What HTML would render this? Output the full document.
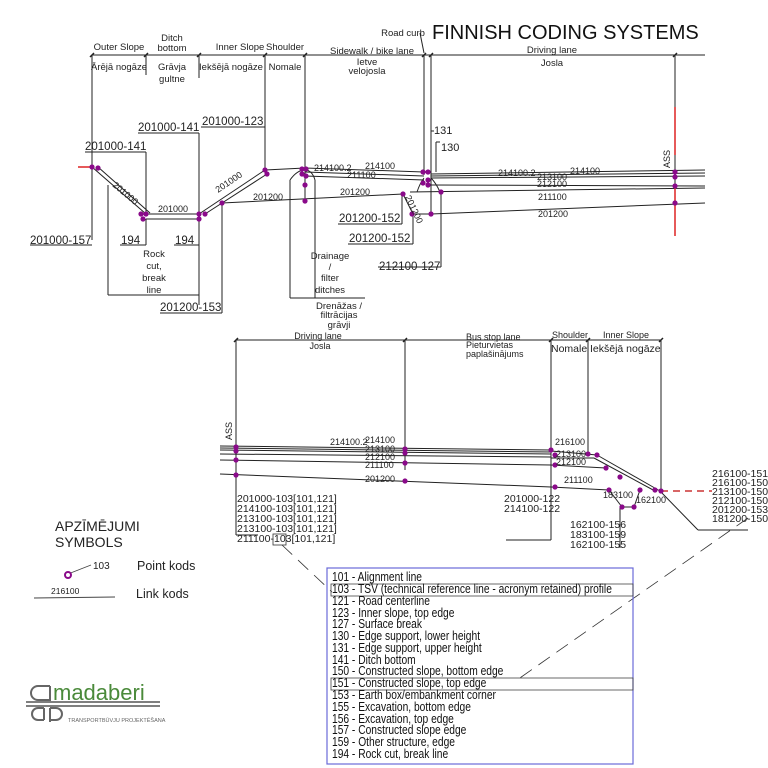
<!DOCTYPE html>
<html><head><meta charset="utf-8"><style>
html,body{margin:0;padding:0;background:#fff;}
svg{display:block;font-family:"Liberation Sans",sans-serif;}
</style></head><body>
<svg width="768" height="768" viewBox="0 0 768 768" xmlns="http://www.w3.org/2000/svg">
<g stroke="#222" stroke-width="1" fill="none">
<line x1="92" y1="55" x2="705" y2="55"/>
<line x1="92" y1="55" x2="92" y2="240"/>
<line x1="146" y1="55" x2="146" y2="75"/>
<line x1="199" y1="55" x2="199" y2="78"/>
<line x1="265" y1="55" x2="265" y2="170"/>
<line x1="305" y1="55" x2="305" y2="170"/>
<line x1="424" y1="55" x2="424" y2="175"/>
<line x1="431" y1="55" x2="431" y2="215"/>
<line x1="675" y1="55" x2="675" y2="107"/>
<g stroke-width="1.5">
<line x1="90" y1="57" x2="94" y2="53"/><line x1="144" y1="57" x2="148" y2="53"/><line x1="197" y1="57" x2="201" y2="53"/>
<line x1="263" y1="57" x2="267" y2="53"/><line x1="303" y1="57" x2="307" y2="53"/><line x1="422" y1="57" x2="426" y2="53"/>
<line x1="429" y1="57" x2="433" y2="53"/><line x1="673" y1="57" x2="677" y2="53"/>
</g>
<line x1="420" y1="33" x2="424" y2="53"/>
<line x1="92" y1="167" x2="146" y2="214"/>
<line x1="98" y1="167" x2="150" y2="213"/>
<line x1="146" y1="214" x2="199" y2="214"/>
<line x1="146" y1="219" x2="199" y2="219"/>
<line x1="199" y1="214" x2="265" y2="170"/>
<line x1="205" y1="214" x2="267" y2="174"/>
<line x1="265" y1="170" x2="305" y2="168"/>
<line x1="305" y1="168" x2="424" y2="172"/>
<line x1="305" y1="172" x2="424" y2="176"/>
<line x1="305" y1="176" x2="424" y2="180"/>
<line x1="431" y1="174" x2="705" y2="170"/>
<line x1="431" y1="176" x2="705" y2="173"/>
<line x1="431" y1="178" x2="705" y2="176"/>
<line x1="431" y1="185" x2="705" y2="186"/>
<line x1="410" y1="192" x2="705" y2="188"/>
<line x1="431" y1="214" x2="705" y2="203"/>
<line x1="222" y1="203" x2="403" y2="194"/>
<line x1="403" y1="194" x2="413" y2="214"/>
<line x1="413" y1="214" x2="431" y2="214"/>
<line x1="305" y1="168" x2="305" y2="202"/>
<path d="M417 192 Q420 183 424 178 M431 178 Q436 183 440 192"/>
<line x1="290" y1="180" x2="290" y2="298"/>
<line x1="315" y1="180" x2="315" y2="298"/>
<path d="M290 180 Q297 170 305 170 Q312 170 315 180"/>
<line x1="290" y1="298" x2="315" y2="298"/>
<line x1="315" y1="298" x2="365" y2="298"/>
<line x1="108" y1="185" x2="108" y2="295"/>
<line x1="199" y1="214" x2="199" y2="305"/>
<line x1="108" y1="295" x2="199" y2="295"/>
<line x1="146" y1="219" x2="146" y2="245"/>
<line x1="30" y1="245" x2="92" y2="245"/>
<line x1="120" y1="245" x2="146" y2="245"/>
<line x1="174" y1="245" x2="199" y2="245"/>
<line x1="85" y1="152" x2="146" y2="152"/><line x1="146" y1="152" x2="146" y2="214"/>
<line x1="138" y1="133" x2="199" y2="133"/><line x1="199" y1="133" x2="199" y2="214"/>
<line x1="201" y1="127" x2="265" y2="127"/>
<line x1="160" y1="313" x2="222" y2="313"/><line x1="222" y1="313" x2="222" y2="203"/>
<line x1="338" y1="224" x2="402" y2="224"/><line x1="402" y1="224" x2="402" y2="194"/>
<line x1="348" y1="244" x2="413" y2="244"/><line x1="413" y1="244" x2="413" y2="214"/>
<line x1="378" y1="267" x2="441" y2="267"/><line x1="441" y1="267" x2="441" y2="192"/>
<line x1="431" y1="131" x2="431" y2="170"/><line x1="431" y1="131" x2="434" y2="131"/>
<line x1="436" y1="142" x2="436" y2="172"/><line x1="436" y1="142" x2="440" y2="142"/>
</g>
<line x1="78" y1="167" x2="92" y2="167" stroke="#d22" stroke-width="1.5"/>
<line x1="675" y1="107" x2="675" y2="155" stroke="#d22" stroke-width="1.5"/>
<line x1="675" y1="185" x2="675" y2="236" stroke="#d22" stroke-width="1.5"/>
<line x1="675" y1="155" x2="675" y2="185" stroke="#222"/>
<g fill="#8a0a8a">
<circle cx="92" cy="167" r="2.6"/><circle cx="98" cy="168" r="2.6"/>
<circle cx="141" cy="214" r="2.6"/><circle cx="146" cy="214" r="2.6"/><circle cx="143" cy="219" r="2.6"/>
<circle cx="199" cy="214" r="2.6"/><circle cx="205" cy="214" r="2.6"/><circle cx="199" cy="219" r="2.6"/>
<circle cx="222" cy="203" r="2.6"/><circle cx="265" cy="170" r="2.6"/><circle cx="267" cy="174" r="2.6"/>
<circle cx="302" cy="169" r="2.6"/><circle cx="306" cy="169" r="2.6"/><circle cx="302" cy="174" r="2.6"/><circle cx="306" cy="176" r="2.6"/><circle cx="305" cy="185" r="2.6"/><circle cx="305" cy="201" r="2.6"/>
<circle cx="423" cy="172" r="2.6"/><circle cx="428" cy="172" r="2.6"/><circle cx="423" cy="183" r="2.6"/><circle cx="428" cy="180" r="2.6"/><circle cx="428" cy="185" r="2.6"/>
<circle cx="403" cy="194" r="2.6"/><circle cx="412" cy="214" r="2.6"/><circle cx="431" cy="214" r="2.6"/><circle cx="441" cy="192" r="2.6"/>
<circle cx="675" cy="172" r="2.6"/><circle cx="675" cy="177" r="2.6"/><circle cx="675" cy="186" r="2.6"/><circle cx="675" cy="203" r="2.6"/>
</g>
<text x="432" y="39" font-size="20" fill="#111">FINNISH CODING SYSTEMS</text>
<g font-size="9.5" fill="#222" text-anchor="middle">
<text x="119" y="50">Outer Slope</text>
<text x="172" y="41">Ditch</text><text x="172" y="51">bottom</text>
<text x="240" y="50">Inner Slope</text><text x="285" y="50">Shoulder</text>
<text x="372" y="54">Sidewalk / bike lane</text><text x="403" y="36">Road curb</text>
<text x="552" y="53">Driving lane</text><text x="552" y="66">Josla</text>
<text x="119" y="70">Ārējā nogāze</text>
<text x="172" y="70">Grāvja</text><text x="172" y="82">gultne</text>
<text x="231" y="70">Iekšējā nogāze</text><text x="285" y="70">Nomale</text>
<text x="367" y="65">Ietve</text><text x="367" y="74">velojosla</text>
<text x="154" y="257">Rock</text><text x="154" y="269">cut,</text><text x="154" y="281">break</text><text x="154" y="293">line</text>
<text x="330" y="259">Drainage</text><text x="330" y="270">/</text><text x="330" y="281">filter</text><text x="330" y="293">ditches</text>
<text x="339" y="309">Drenāžas /</text><text x="339" y="318">filtrācijas</text><text x="339" y="328">grāvji</text>
</g>
<g font-size="11.5" fill="#222">
<text x="85" y="150">201000-141</text><text x="138" y="131">201000-141</text><text x="202" y="125">201000-123</text>
<text x="30" y="244">201000-157</text><text x="121" y="244">194</text><text x="175" y="244">194</text>
<text x="160" y="311">201200-153</text><text x="339" y="222">201200-152</text><text x="349" y="242">201200-152</text><text x="379" y="270">212100-127</text>
<text x="434" y="134" font-size="11">131</text><text x="441" y="151" font-size="11">130</text>
</g>
<g font-size="9" fill="#222">
<text x="112" y="186" transform="rotate(40 112 186)">201000</text>
<text x="158" y="212">201000</text>
<text x="218" y="193" transform="rotate(-34 218 193)">201000</text>
<text x="253" y="200">201200</text>
<text x="314" y="171">214100.2</text><text x="365" y="169">214100</text><text x="347" y="178">211100</text>
<text x="340" y="195">201200</text>
<text x="405" y="197" transform="rotate(65 405 197)">201200</text>
<text x="498" y="176">214100.2</text><text x="537" y="180">213100</text><text x="570" y="174">214100</text>
<text x="537" y="187">212100</text><text x="538" y="200">211100</text><text x="538" y="217">201200</text>
<text x="670" y="168" transform="rotate(-90 670 168)">ASS</text>
</g>

<g stroke="#222" stroke-width="1" fill="none">
<line x1="236" y1="340" x2="661" y2="340"/>
<line x1="236" y1="340" x2="236" y2="535"/>
<line x1="405" y1="340" x2="405" y2="470"/>
<line x1="551" y1="340" x2="551" y2="450"/>
<line x1="588" y1="340" x2="588" y2="455"/>
<line x1="661" y1="340" x2="661" y2="491"/>
<g stroke-width="1.5"><line x1="234" y1="342" x2="238" y2="338"/><line x1="403" y1="342" x2="407" y2="338"/><line x1="549" y1="342" x2="553" y2="338"/><line x1="586" y1="342" x2="590" y2="338"/><line x1="659" y1="342" x2="663" y2="338"/></g>
<line x1="220" y1="446" x2="551" y2="450"/>
<line x1="220" y1="448" x2="551" y2="452"/>
<line x1="220" y1="450" x2="551" y2="454"/>
<line x1="220" y1="454" x2="551" y2="457"/>
<line x1="220" y1="460" x2="551" y2="465"/>
<line x1="220" y1="474" x2="551" y2="487"/>
<line x1="551" y1="451" x2="597" y2="455"/>
<line x1="551" y1="458" x2="594" y2="458"/>
<line x1="551" y1="465" x2="606" y2="468"/>
<line x1="597" y1="455" x2="660" y2="491"/>
<line x1="594" y1="458" x2="655" y2="491"/>
<line x1="551" y1="487" x2="609" y2="490"/>
<line x1="551" y1="450" x2="551" y2="540"/>
<line x1="506" y1="540" x2="551" y2="540"/>
<line x1="609" y1="490" x2="622" y2="507"/><line x1="622" y1="507" x2="634" y2="507"/><line x1="634" y1="507" x2="640" y2="490"/>
<line x1="620" y1="507" x2="620" y2="548"/>
<line x1="660" y1="491" x2="698" y2="530"/><line x1="698" y1="530" x2="748" y2="530"/>
<line x1="236" y1="535" x2="258" y2="535"/>
</g>
<line x1="661" y1="491" x2="712" y2="491" stroke="#c33" stroke-width="1.5" stroke-dasharray="7,5"/>
<g stroke="#333" stroke-width="0.8" stroke-dasharray="14,8" fill="none">
<line x1="282" y1="545" x2="332" y2="592"/>
<line x1="748" y1="518" x2="517" y2="680"/>
</g>
<g fill="#8a0a8a">
<circle cx="236" cy="447" r="2.6"/><circle cx="236" cy="451" r="2.6"/><circle cx="236" cy="460" r="2.6"/><circle cx="236" cy="475" r="2.6"/>
<circle cx="405" cy="449" r="2.6"/><circle cx="405" cy="453" r="2.6"/><circle cx="405" cy="463" r="2.6"/><circle cx="405" cy="481" r="2.6"/>
<circle cx="551" cy="450" r="2.6"/><circle cx="555" cy="455" r="2.6"/><circle cx="555" cy="465" r="2.6"/><circle cx="555" cy="487" r="2.6"/>
<circle cx="588" cy="454" r="2.6"/><circle cx="597" cy="455" r="2.6"/><circle cx="606" cy="468" r="2.6"/><circle cx="620" cy="477" r="2.6"/><circle cx="609" cy="490" r="2.6"/><circle cx="640" cy="490" r="2.6"/>
<circle cx="622" cy="507" r="2.6"/><circle cx="634" cy="507" r="2.6"/><circle cx="655" cy="490" r="2.6"/><circle cx="661" cy="491" r="2.6"/>
</g>
<g font-size="9" fill="#222">
<text x="318" y="339" text-anchor="middle">Driving lane</text><text x="320" y="349" text-anchor="middle">Josla</text>
<text x="466" y="340">Bus stop lane</text><text x="466" y="348">Pieturvietas</text><text x="466" y="357">paplašinājums</text>
<text x="552" y="338">Shoulder</text><text x="603" y="338">Inner Slope</text>
<text x="551" y="352" font-size="10.5">Nomale</text><text x="590" y="352" font-size="10.5">Iekšējā nogāze</text>
<text x="232" y="440" transform="rotate(-90 232 440)">ASS</text>
<text x="330" y="445">214100.2</text><text x="365" y="443">214100</text><text x="365" y="452">213100</text><text x="365" y="460">212100</text><text x="365" y="468">211100</text><text x="365" y="482">201200</text>
<text x="555" y="445">216100</text><text x="556" y="457">213100</text><text x="556" y="465">212100</text><text x="564" y="483">211100</text>
<text x="603" y="498">183100</text><text x="636" y="503">162100</text>
</g>
<g font-size="10.5" fill="#222">
<text x="237" y="502">201000-103[101,121]</text><text x="237" y="512">214100-103[101,121]</text><text x="237" y="522">213100-103[101,121]</text><text x="237" y="532">213100-103[101,121]</text><text x="237" y="542">211100-103[101,121]</text>
<text x="504" y="502">201000-122</text><text x="504" y="512">214100-122</text>
<text x="570" y="528">162100-156</text><text x="570" y="538">183100-159</text><text x="570" y="548">162100-155</text>
<text x="712" y="477">216100-151</text><text x="712" y="486">216100-150</text><text x="712" y="495">213100-150</text><text x="712" y="504">212100-150</text><text x="712" y="513">201200-153</text><text x="712" y="522">181200-150</text>
</g>
<rect x="273" y="534" width="13" height="11" fill="none" stroke="#333" stroke-width="0.8"/>

<text x="55" y="531" font-size="14" fill="#222">APZĪMĒJUMI</text>
<text x="55" y="547" font-size="14" fill="#222">SYMBOLS</text>
<line x1="68" y1="574" x2="91" y2="565" stroke="#444" stroke-width="0.8"/>
<circle cx="68" cy="575" r="3" fill="#fff" stroke="#8a0a8a" stroke-width="2"/>
<text x="93" y="569" font-size="10" fill="#222">103</text>
<text x="137" y="570" font-size="12.5" fill="#222">Point kods</text>
<line x1="34" y1="598" x2="115" y2="597" stroke="#444"/>
<text x="51" y="594" font-size="8.5" fill="#222">216100</text>
<text x="136" y="598" font-size="12.5" fill="#222">Link kods</text>

<path d="M50 686 v14 h-12 a7 7 0 0 1 0 -14 h12" fill="none" stroke="#666" stroke-width="2"/>
<text x="53" y="700" font-size="22" fill="#4a8a3a">madaberi</text>
<line x1="26" y1="702" x2="160" y2="702" stroke="#555" stroke-width="1.5"/>
<line x1="26" y1="706" x2="160" y2="706" stroke="#555" stroke-width="1.5"/>
<path d="M44 708 v12 M44 708 h-6 a6 6 0 0 0 0 12 h6" fill="none" stroke="#666" stroke-width="2"/>
<path d="M50 708 v14 M50 708 h6 a6 6 0 0 1 0 12 h-6" fill="none" stroke="#666" stroke-width="2"/>
<text x="68" y="722" font-size="5.5" fill="#666">TRANSPORTBŪVJU PROJEKTĒŠANA</text>

<rect x="327" y="568" width="306" height="196" fill="none" stroke="#6a6ad8" stroke-width="1.2"/>
<rect x="331" y="584" width="302" height="12" fill="none" stroke="#444" stroke-width="0.8"/>
<rect x="331" y="678" width="302" height="12" fill="none" stroke="#444" stroke-width="0.8"/>
<g transform="translate(332,0) scale(0.82,1)" font-size="12.5" fill="#111">
<text x="0" y="581">101 - Alignment line</text>
<text x="0" y="593">103 - TSV (technical reference line - acronym retained) profile</text>
<text x="0" y="605">121 - Road centerline</text>
<text x="0" y="617">123 - Inner slope, top edge</text>
<text x="0" y="628">127 - Surface break</text>
<text x="0" y="640">130 -  Edge support, lower height</text>
<text x="0" y="652">131 - Edge support, upper height</text>
<text x="0" y="664">141 - Ditch bottom</text>
<text x="0" y="675">150 - Constructed slope, bottom edge</text>
<text x="0" y="687">151 - Constructed slope, top edge</text>
<text x="0" y="699">153 - Earth box/embankment corner</text>
<text x="0" y="711">155 - Excavation, bottom edge</text>
<text x="0" y="723">156 - Excavation, top edge</text>
<text x="0" y="734">157 - Constructed slope edge</text>
<text x="0" y="746">159 - Other structure, edge</text>
<text x="0" y="758">194 - Rock cut, break line</text>
</g>
</svg>
</body></html>
